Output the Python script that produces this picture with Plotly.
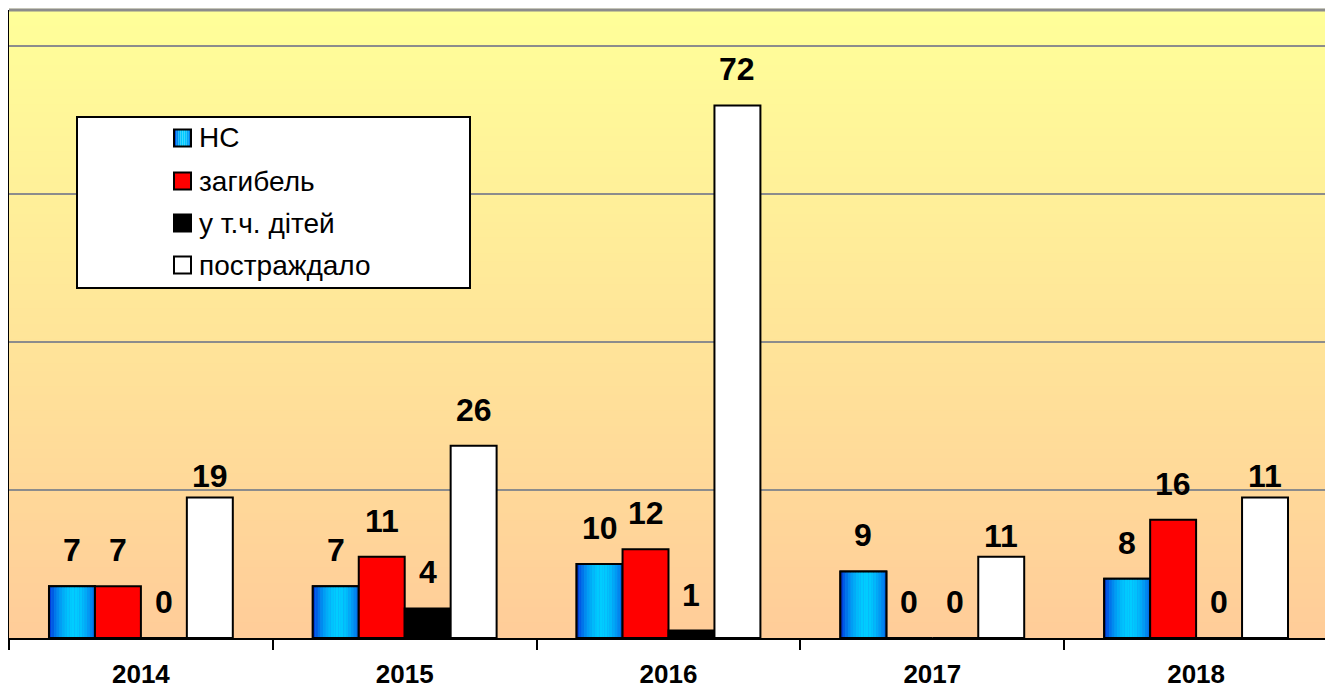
import math
import plotly.graph_objects as go

# ---- data ----
years = ["2014", "2015", "2016", "2017", "2018"]
ns = [7, 7, 10, 9, 8]                 # НС
deaths = [7, 11, 12, 0, 16]           # загибель
children = [0, 4, 1, 0, 0]            # у т.ч. дітей
injured = [19, 26, 72, 11, 19]        # постраждало (bar heights as drawn)
injured_labels = ["19", "26", "72", "11", "11"]  # label text as printed

series_names = ["НС", "загибель", "у т.ч. дітей", "постраждало"]

# ---- style ----
W = 0.1742
offsets = [-2 * W + k * W for k in range(4)]
LABEL_FONT = dict(family="Liberation Sans, Arial", size=32, color="black")
lab_shift_default = 36
lab_shift_injured = [21, 36, 36, 21, 21]
fill_colors = [None, "#ff0000", "#000000", "#ffffff"]

# page has an 8px body margin; figure is sized to fill the rest of the window
OFF = 8
FIG_W, FIG_H = 1333 - OFF, 688 - OFF
# plot area in page pixels
PL, PR, PT, PB = 9, 1328, 10, 638

def px_x(p):
    return (p - PL) / (PR - PL)
def px_y(p):
    return (PB - p) / (PB - PT)

def blue_col(t):
    c0 = (0, 40, 215)
    c1 = (0, 205, 255)
    d = abs(t - 0.55) / 0.55
    s = math.cos(min(d, 1.0) * math.pi / 2) ** 0.8
    r = [round(c0[i] + (c1[i] - c0[i]) * s) for i in range(3)]
    return "rgb(%d,%d,%d)" % tuple(r)

fig = go.Figure()

# НС bars with horizontal gradient
N = 18
fig.add_trace(go.Bar(x=years, y=ns, name=series_names[0], width=W, offset=offsets[0],
                     marker=dict(color="#1a8cf0", line=dict(color="black", width=2)),
                     hoverinfo="skip"))
for j in range(N):
    t = (j + 0.5) / N
    fig.add_trace(go.Bar(x=years, y=ns, width=W / N, offset=offsets[0] + j * W / N,
                         marker=dict(color=blue_col(t), line=dict(width=0)),
                         hoverinfo="skip"))
fig.add_trace(go.Bar(x=years, y=ns, width=W, offset=offsets[0],
                     marker=dict(color="rgba(0,0,0,0)", line=dict(color="black", width=2)),
                     hoverinfo="skip"))

for k, vals in [(1, deaths), (2, children), (3, injured)]:
    fig.add_trace(go.Bar(x=years, y=vals, name=series_names[k], width=W, offset=offsets[k],
                         marker=dict(color=fill_colors[k], line=dict(color="black", width=2)),
                         hoverinfo="skip"))

# data labels
all_series = [ns, deaths, children, injured]
annotations = []
for k, vals in enumerate(all_series):
    for i, v in enumerate(vals):
        txt = injured_labels[i] if k == 3 else str(v)
        shift = lab_shift_injured[i] if k == 3 else lab_shift_default
        annotations.append(dict(x=i + offsets[k] + W / 2, y=v, xref="x", yref="y",
                                text="<b>%s</b>" % txt, showarrow=False,
                                yshift=shift, font=LABEL_FONT))

# background gradient (light yellow -> tan)
shapes = []
NS = 80
top = (255, 255, 153)
bot = (255, 204, 153)
for s in range(NS):
    f = (s + 0.5) / NS
    c = [round(bot[i] + (top[i] - bot[i]) * f) for i in range(3)]
    shapes.append(dict(type="rect", xref="paper", yref="paper", x0=0, x1=1,
                       y0=s / NS, y1=(s + 1) / NS + 0.002, fillcolor="rgb(%d,%d,%d)" % tuple(c),
                       line=dict(width=0), layer="below"))
# plot-area border (top & right, grey)
shapes.append(dict(type="line", xref="paper", yref="paper", x0=0, x1=1, y0=1, y1=1,
                   line=dict(color="#8c8c8c", width=3), layer="above"))
shapes.append(dict(type="line", xref="paper", yref="paper", x0=1, x1=1, y0=0, y1=1,
                   line=dict(color="#8c8c8c", width=2), layer="above"))

# hand-drawn legend box
shapes.append(dict(type="rect", xref="paper", yref="paper", x0=px_x(77), x1=px_x(470),
                   y0=px_y(288), y1=px_y(117), fillcolor="white",
                   line=dict(color="black", width=2), layer="above"))
item_y = [138, 181, 223, 265]
SQ = 17
sx0 = 174
for k, name in enumerate(series_names):
    cy = item_y[k]
    if k == 0:
        NL = 8
        for j in range(NL):
            shapes.append(dict(type="rect", xref="paper", yref="paper",
                               x0=px_x(sx0 + j * SQ / NL), x1=px_x(sx0 + (j + 1) * SQ / NL),
                               y0=px_y(cy + SQ / 2), y1=px_y(cy - SQ / 2),
                               fillcolor=blue_col((j + 0.5) / NL), line=dict(width=0),
                               layer="above"))
        fc = "rgba(0,0,0,0)"
    else:
        fc = fill_colors[k]
    shapes.append(dict(type="rect", xref="paper", yref="paper",
                       x0=px_x(sx0), x1=px_x(sx0 + SQ),
                       y0=px_y(cy + SQ / 2), y1=px_y(cy - SQ / 2),
                       fillcolor=fc, line=dict(color="black", width=2), layer="above"))
    annotations.append(dict(x=px_x(197), y=px_y(cy), xref="paper", yref="paper",
                            xanchor="left", yanchor="middle", showarrow=False,
                            text=name, font=dict(size=28, family="Liberation Sans, Arial",
                                                 color="black")))

fig.update_layout(
    width=FIG_W, height=FIG_H,
    margin=dict(l=PL - OFF, r=(OFF + FIG_W) - PR, t=PT - OFF, b=(OFF + FIG_H) - PB,
                autoexpand=False),
    paper_bgcolor="white",
    plot_bgcolor="rgba(0,0,0,0)",
    barmode="overlay",
    font=dict(family="Liberation Sans, Arial", color="black"),
    showlegend=False,
    shapes=shapes,
    annotations=annotations,
    hovermode=False,
)
fig.update_xaxes(type="category", showline=True, linecolor="black", linewidth=2,
                 ticks="outside", tickson="boundaries", ticklen=10, tickwidth=2,
                 tickcolor="black", ticklabelstandoff=12, automargin=False,
                 tickfont=dict(size=26, family="Liberation Sans, Arial", weight="bold"),
                 showgrid=False, range=[-0.5, 4.5])
fig.update_yaxes(range=[0, 84.9], dtick=20, showgrid=True, gridcolor="#8c8c8c", gridwidth=2,
                 showline=True, linecolor="black", linewidth=2, ticks="outside", ticklen=4,
                 tickcolor="black", showticklabels=False, zeroline=False, automargin=False)

fig.write_html("out.html")
